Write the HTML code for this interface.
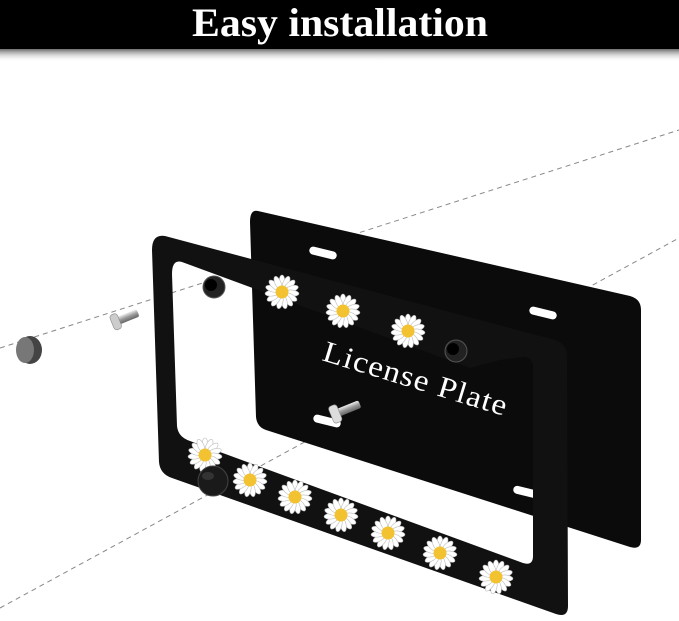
<!DOCTYPE html>
<html><head><meta charset="utf-8"><style>
html,body{margin:0;padding:0;background:#fff;width:679px;height:621px;overflow:hidden}
</style></head><body>
<svg width="679" height="621" viewBox="0 0 679 621" xmlns="http://www.w3.org/2000/svg">
<defs>
<linearGradient id="sh" x1="0" y1="0" x2="0" y2="1"><stop offset="0" stop-color="#555"/><stop offset="1" stop-color="#fff" stop-opacity="0"/></linearGradient>
<linearGradient id="sc" x1="0" y1="0" x2="0" y2="1"><stop offset="0" stop-color="#eee"/><stop offset="0.5" stop-color="#999"/><stop offset="1" stop-color="#666"/></linearGradient>
<g id="fl">
<g fill="#fff" stroke="#bbb" stroke-width="0.6">
<ellipse cx="0" cy="-10" rx="3" ry="7"/><ellipse cx="0" cy="-10" rx="3" ry="7" transform="rotate(24)"/><ellipse cx="0" cy="-10" rx="3" ry="7" transform="rotate(48)"/><ellipse cx="0" cy="-10" rx="3" ry="7" transform="rotate(72)"/><ellipse cx="0" cy="-10" rx="3" ry="7" transform="rotate(96)"/><ellipse cx="0" cy="-10" rx="3" ry="7" transform="rotate(120)"/><ellipse cx="0" cy="-10" rx="3" ry="7" transform="rotate(144)"/><ellipse cx="0" cy="-10" rx="3" ry="7" transform="rotate(168)"/><ellipse cx="0" cy="-10" rx="3" ry="7" transform="rotate(192)"/><ellipse cx="0" cy="-10" rx="3" ry="7" transform="rotate(216)"/><ellipse cx="0" cy="-10" rx="3" ry="7" transform="rotate(240)"/><ellipse cx="0" cy="-10" rx="3" ry="7" transform="rotate(264)"/><ellipse cx="0" cy="-10" rx="3" ry="7" transform="rotate(288)"/><ellipse cx="0" cy="-10" rx="3" ry="7" transform="rotate(312)"/><ellipse cx="0" cy="-10" rx="3" ry="7" transform="rotate(336)"/>
</g>
<circle r="6.5" fill="#f2c230"/>
</g>
</defs>
<rect x="0" y="48" width="679" height="14" fill="url(#sh)"/>
<rect x="0" y="0" width="679" height="49" fill="#000"/>
<text x="340" y="36" text-anchor="middle" font-family="Liberation Serif, serif" font-weight="bold" font-size="40" fill="#fff" textLength="296" lengthAdjust="spacingAndGlyphs">Easy installation</text>

<g stroke="#888" stroke-width="1" stroke-dasharray="5,4" fill="none">
<line x1="0" y1="348" x2="679" y2="130"/>
<line x1="0" y1="608" x2="679" y2="238"/>
</g>

<!-- back plate -->
<path d="M258,211 L630,296 Q641,299 641,310 L641,540 Q641,550 630,547 L266,430 Q257,427 256,417 L250,222 Q250,209 258,211 Z" fill="#0b0b0b"/>
<g fill="#fff">
<rect x="309" y="249" width="28" height="8" rx="4" transform="rotate(14 323 253)"/>
<rect x="529" y="309" width="28" height="8" rx="4" transform="rotate(14 543 313)"/>
<rect x="313" y="417" width="28" height="8" rx="4" transform="rotate(14 327 421)"/>
<rect x="513" y="488" width="26" height="8" rx="4" transform="rotate(14 526 492)"/>
</g>
<text x="321" y="360" font-family="Liberation Serif, serif" font-size="30" fill="#fff" letter-spacing="1" transform="rotate(17 321 360)" textLength="192" lengthAdjust="spacingAndGlyphs">License Plate</text>

<!-- frame -->
<path fill-rule="evenodd" fill="#111" d="M165,236 L555,340 Q567,344 567,356 L568,606 Q568,618 556,614 L172,478 Q160,474 159,462 L152,250 Q152,234 165,236 Z M182,262 L470,368 L500,360 L522,357 Q533,356 533,368 L533,556 Q533,566 523,563 L190,441 Q178,437 177,426 L172,274 Q172,259 182,262 Z"/>
<use href="#fl" x="282" y="292"/>
<use href="#fl" x="343" y="311"/>
<use href="#fl" x="408" y="331"/>
<use href="#fl" x="205" y="455"/>
<use href="#fl" x="250" y="480"/>
<use href="#fl" x="295" y="497"/>
<use href="#fl" x="341" y="515"/>
<use href="#fl" x="388" y="533"/>
<use href="#fl" x="440" y="553"/>
<use href="#fl" x="496" y="577"/>

<!-- bolts -->
<circle cx="214" cy="287" r="11" fill="#222" stroke="#555"/>
<circle cx="211" cy="285" r="6" fill="#000"/>
<circle cx="456" cy="351" r="11" fill="#222" stroke="#555"/>
<circle cx="453" cy="349" r="6" fill="#000"/>
<circle cx="213" cy="481" r="15" fill="#1a1a1a" stroke="#444"/>
<ellipse cx="208" cy="476" rx="6" ry="4" fill="#333"/>
<!-- screws -->
<g transform="rotate(-22 125 318)"><rect x="117" y="314" width="22" height="8" rx="2" fill="url(#sc)"/><rect x="111" y="310" width="8" height="16" rx="3" fill="#ccc" stroke="#888" stroke-width="0.6"/></g>
<g transform="rotate(-22 345 410)"><rect x="337" y="406" width="24" height="8" rx="2" fill="url(#sc)"/><rect x="330" y="401" width="9" height="18" rx="3" fill="#ddd" stroke="#888" stroke-width="0.6"/></g>
<!-- cap -->
<ellipse cx="30" cy="350" rx="12" ry="14" fill="#444"/>
<ellipse cx="25" cy="350" rx="9" ry="13" fill="#777"/>
</svg>
</body></html>
